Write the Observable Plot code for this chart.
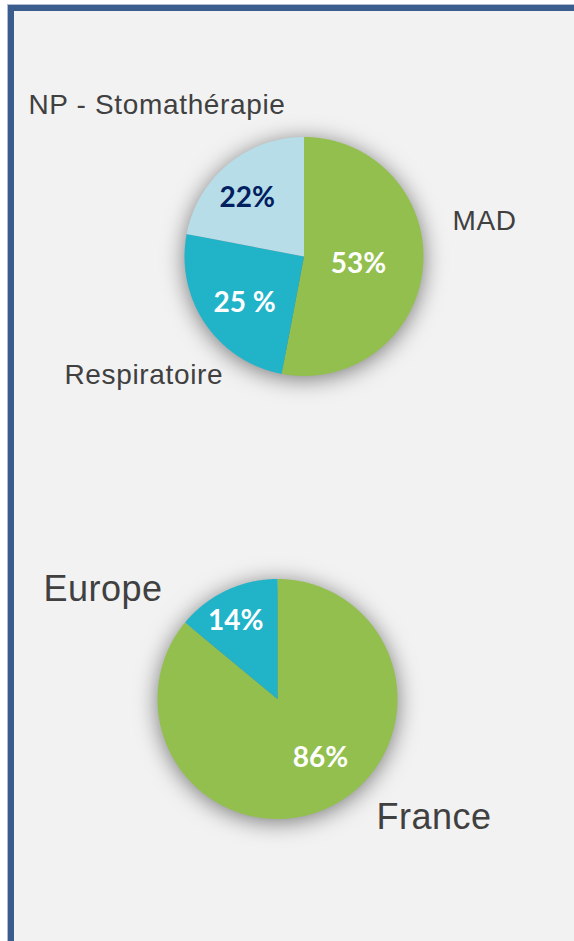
<!DOCTYPE html>
<html><head><meta charset="utf-8">
<script src="https://cdn.jsdelivr.net/npm/d3@7"></script>
<script src="https://cdn.jsdelivr.net/npm/@observablehq/plot@0.6"></script>
<style>
html,body{margin:0;padding:0;background:#fff;overflow:hidden;width:574px;height:941px}
#frame{position:absolute;left:7px;top:4px;width:620px;height:980px;border-left:1px solid #aebbd0;border-top:1px solid #aebbd0;}
#inner{position:absolute;left:0;top:0;right:0;bottom:0;border-left:6px solid #3a5d8e;border-top:6px solid #3a5d8e;background:#f2f2f2}
#chart{position:absolute;left:0;top:0}
</style></head><body>
<div id="frame"><div id="inner"></div></div>
<div id="chart"></div>
<script>
// ---- DATA ----
const categories1 = ["MAD", "Respiratoire", "NP - Stomathérapie"];
const values1 = [53, 25, 22];
const valueLabels1 = ["53%", "25 %", "22%"];

const categories2 = ["France", "Europe"];
const values2 = [86, 14];
const valueLabels2 = ["86%", "14%"];

// ---- STYLE / LAYOUT ----
const colors1 = ["#92bf4e", "#21b3c8", "#b6dde8"];
const colors2 = ["#92bf4e", "#21b3c8"];
const innerText1 = ["#ffffff", "#ffffff", "#002060"];
const innerText2 = ["#ffffff", "#ffffff"];
const pies = [
  {cats: categories1, vals: values1, labs: valueLabels1, colors: colors1, txt: innerText1,
   cx: 303.5, cy: 256, r: 119.5, outerSize: 28,
   inner: [{f: 0.46, da: 2.4}, {f: 0.63, da: -3.8}, {f: 0.68, da: -4.8}],
   outer: [{dx: 148.5, dy: -27}, {dx: -239.5, dy: 127}, {dx: -275.5, dy: -143}]},
  {cats: categories2, vals: values2, labs: valueLabels2, colors: colors2, txt: innerText2,
   cx: 277, cy: 698.5, r: 120, outerSize: 36,
   inner: [{f: 0.61, da: -10.8}, {f: 0.74, da: -2.8}],
   outer: [{dx: 99, dy: 129.5}, {dx: -234, dy: -98.5}]}
];

// ---- BUILD ----
const rad = d => d * Math.PI / 180;
const slicePts = [], innerLabels = [], outerLabels = [];
pies.forEach((p, pi) => {
  const total = d3.sum(p.vals);
  let a0 = 0;
  p.vals.forEach((v, i) => {
    const a1 = a0 + v / total * 360;
    const id = pi + "-" + i;
    slicePts.push({id, x: p.cx, y: p.cy, color: p.colors[i]});
    for (let a = a0; a < a1; a += 0.5) {
      slicePts.push({id, x: p.cx + p.r * Math.sin(rad(a)), y: p.cy - p.r * Math.cos(rad(a)), color: p.colors[i]});
    }
    slicePts.push({id, x: p.cx + p.r * Math.sin(rad(a1)), y: p.cy - p.r * Math.cos(rad(a1)), color: p.colors[i]});
    slicePts.push({id, x: p.cx, y: p.cy, color: p.colors[i]});
    const mid = (a0 + a1) / 2 + p.inner[i].da;
    const lr = p.r * p.inner[i].f;
    innerLabels.push({x: p.cx + lr * Math.sin(rad(mid)), y: p.cy - lr * Math.cos(rad(mid)), text: p.labs[i], color: p.txt[i]});
    outerLabels.push({x: p.cx + p.outer[i].dx, y: p.cy + p.outer[i].dy, text: p.cats[i], size: p.outerSize});
    a0 = a1;
  });
});

const chart = Plot.plot({
  width: 574, height: 941, margin: 0,
  x: {domain: [0, 574], range: [0, 574], axis: null},
  y: {domain: [0, 941], range: [0, 941], axis: null},
  color: {type: "identity"},
  style: {background: "transparent", overflow: "visible"},
  marks: [
    Plot.line(slicePts, {x: "x", y: "y", z: "id", fill: "color", stroke: "none", curve: "linear"}),
    Plot.text(innerLabels, {x: "x", y: "y", text: "text", fill: "color", fontSize: 28, fontWeight: 700,
      fontFamily: "Lato, 'Open Sans', sans-serif", textAnchor: "middle", lineAnchor: "middle"}),
    Plot.text(outerLabels.filter(d => d.size === 28), {x: "x", y: "y", text: "text", fill: "#404040", fontSize: 28,
      fontFamily: "'Liberation Sans', Arial, sans-serif", textAnchor: "start", lineAnchor: "bottom"}),
    Plot.text(outerLabels.filter(d => d.size === 36), {x: "x", y: "y", text: "text", fill: "#404040", fontSize: 36,
      fontFamily: "'Liberation Sans', Arial, sans-serif", textAnchor: "start", lineAnchor: "bottom"})
  ]
});
d3.select(chart).selectAll('g[aria-label="line"]').style("filter", "drop-shadow(0px 3px 11px rgba(0,0,0,0.5))");
const textGroups = d3.select(chart).selectAll('g[aria-label="text"]').nodes();
d3.select(textGroups[1]).style("letter-spacing", "0.65px");
d3.select(textGroups[2]).style("letter-spacing", "0.5px");
document.getElementById("chart").appendChild(chart);
</script>
</body></html>
